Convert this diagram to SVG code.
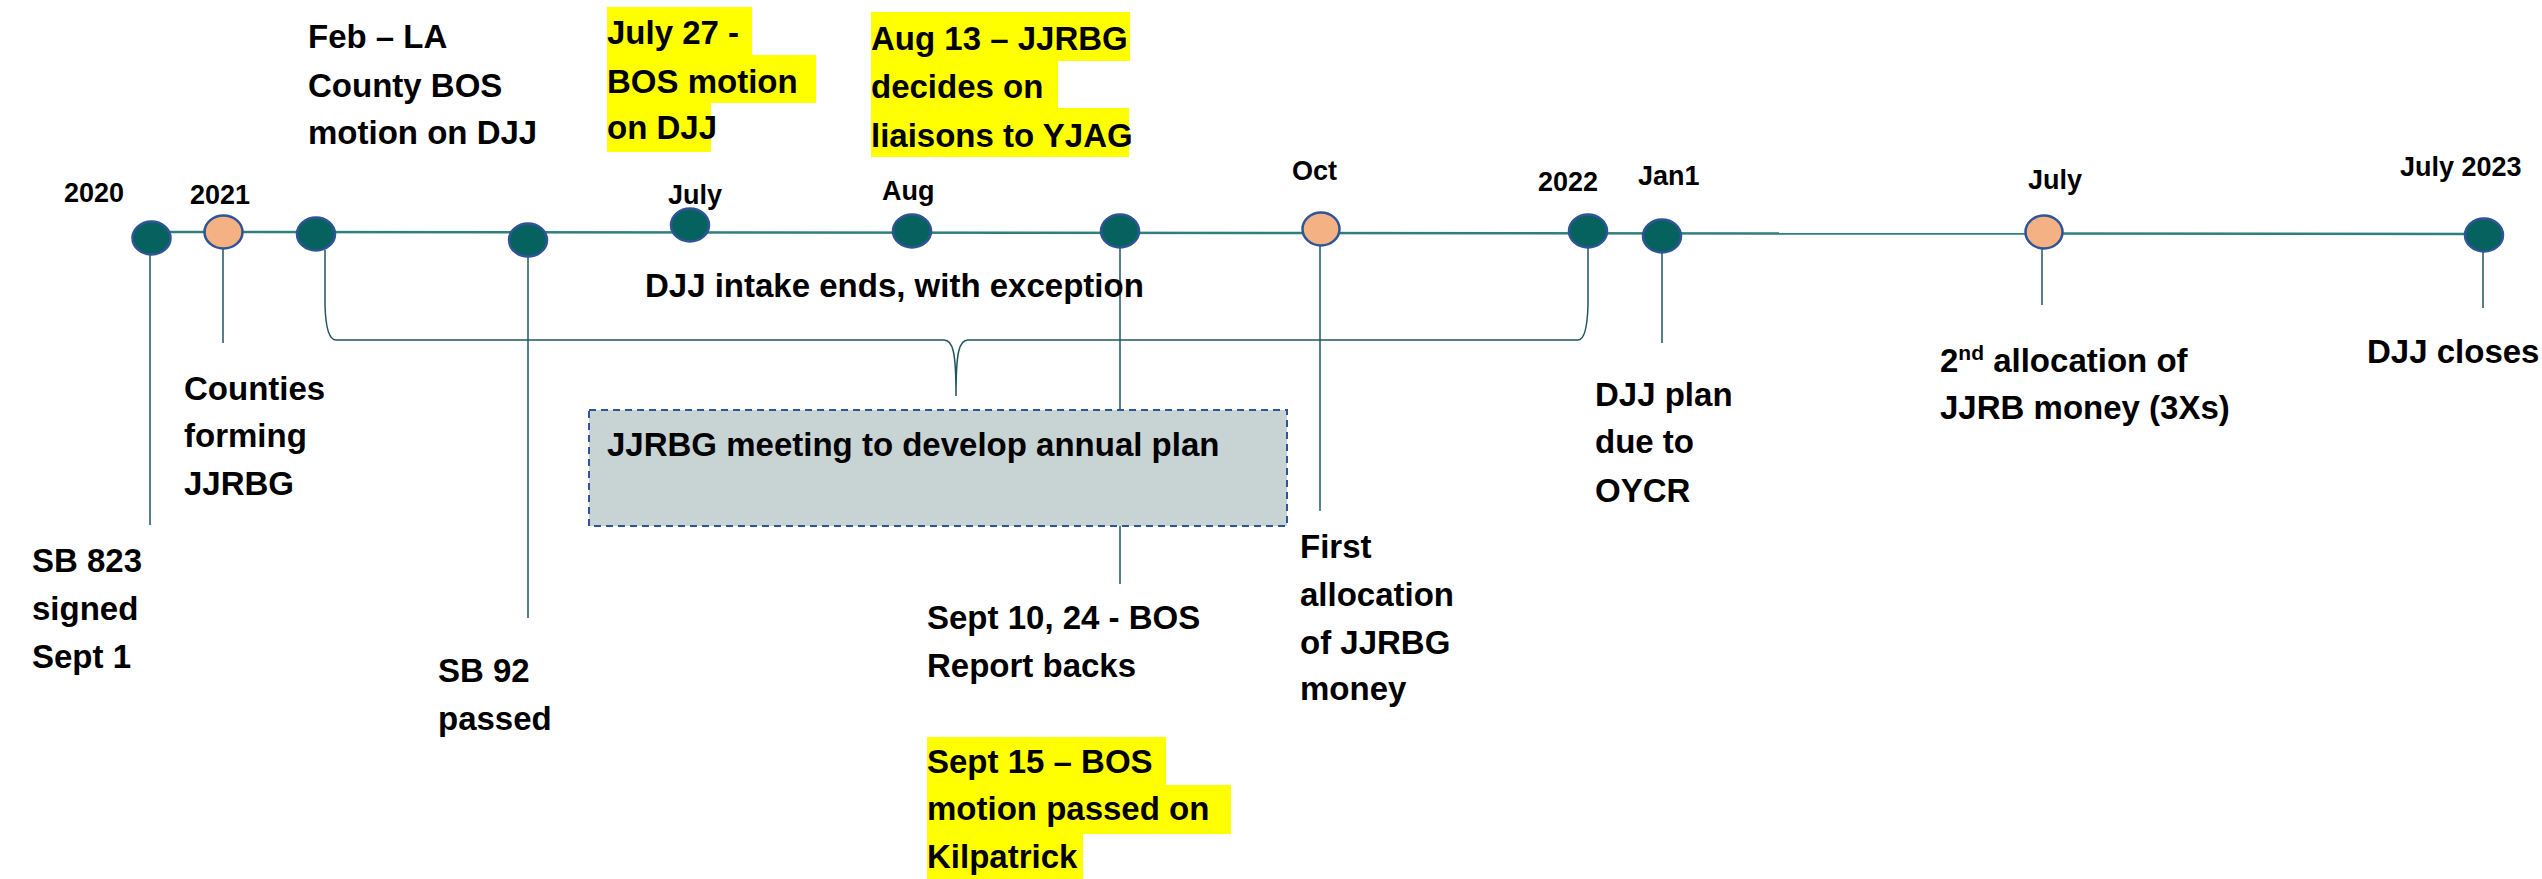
<svg xmlns="http://www.w3.org/2000/svg" width="2542" height="879" viewBox="0 0 2542 879">
<style>
text{font-family:"Liberation Sans",Arial,sans-serif;font-weight:bold;fill:#000}
.m{font-size:33px}
.s{font-size:27px}
.hl{fill:#FFFF00}
.tl{fill:#05625F;stroke:#2F5597;stroke-width:2.5}
.or{fill:#F4B183;stroke:#2F5597;stroke-width:2.5}
.v{stroke:#1F5560;stroke-width:1.5;fill:none}
</style>
<rect width="2542" height="879" fill="#fff"/>
<g id="connectors">
<line x1="151" y1="232" x2="2484" y2="234" stroke="#2E7F7E" stroke-width="2.5"/>
<line class="v" x1="150" y1="254" x2="150" y2="525"/>
<line class="v" x1="223" y1="248" x2="223" y2="343"/>
<line class="v" x1="528" y1="256" x2="528" y2="618"/>
<line class="v" x1="1120" y1="247" x2="1120" y2="584"/>
<line class="v" x1="1320" y1="245" x2="1320" y2="511"/>
<line class="v" x1="1662" y1="252" x2="1662" y2="343"/>
<line class="v" x1="2042" y1="248" x2="2042" y2="305"/>
<line class="v" x1="2483" y1="251" x2="2483" y2="308"/>
<path class="v" stroke-width="2" d="M325 250 L325 305 Q326 340 336 340 L944 340 C953 340 956 352 956 396 C956 352 959 340 968 340 L1578 340 Q1587 340 1588 305 L1588 247"/>
</g>
<g id="n2020"><ellipse class="tl" cx="151.5" cy="238" rx="19" ry="16.5"/><text class="s" x="64" y="202">2020</text></g>
<g id="n2021"><ellipse class="or" cx="223.5" cy="232" rx="19" ry="16.5"/><text class="s" x="190" y="204">2021</text></g>
<g id="nFeb"><ellipse class="tl" cx="316" cy="234" rx="19" ry="16.5"/></g>
<g id="nSB92"><ellipse class="tl" cx="528" cy="240" rx="19" ry="16.5"/></g>
<g id="nJuly"><ellipse class="tl" cx="690" cy="225" rx="19" ry="16.5"/><text class="s" x="668" y="204">July</text></g>
<g id="nAug"><ellipse class="tl" cx="912" cy="231" rx="19" ry="16.5"/><text class="s" x="882" y="200">Aug</text></g>
<g id="nSept"><ellipse class="tl" cx="1120" cy="231" rx="19" ry="16.5"/></g>
<g id="nOct"><ellipse class="or" cx="1321" cy="229" rx="18.5" ry="16.5"/><text class="s" x="1292" y="180">Oct</text></g>
<g id="n2022"><ellipse class="tl" cx="1588" cy="231" rx="19" ry="16.5"/><text class="s" x="1538" y="191">2022</text></g>
<g id="nJan1"><ellipse class="tl" cx="1662" cy="236" rx="19" ry="16.5"/><text class="s" x="1638" y="185">Jan1</text></g>
<g id="nJuly2"><ellipse class="or" cx="2044" cy="232" rx="18.5" ry="16.5"/><text class="s" x="2028" y="189">July</text></g>
<g id="n2023"><ellipse class="tl" cx="2484" cy="235" rx="19" ry="16.5"/><text class="s" x="2400" y="176">July 2023</text></g>
<g id="feb-label"><text class="m" x="308" y="48">Feb – LA</text><text class="m" x="308" y="97">County BOS</text><text class="m" x="308" y="144">motion on DJJ</text></g>
<g id="july27-label">
<rect class="hl" x="607" y="7" width="145" height="48"/><rect class="hl" x="607" y="55" width="209" height="48"/><rect class="hl" x="607" y="103" width="104" height="49"/>
<text class="m" x="607" y="44">July 27 -</text><text class="m" x="607" y="93">BOS motion</text><text class="m" x="607" y="139">on DJJ</text></g>
<g id="aug13-label">
<rect class="hl" x="871" y="12" width="259" height="49"/><rect class="hl" x="871" y="61" width="187" height="47"/><rect class="hl" x="871" y="108" width="258" height="49"/>
<text class="m" x="871" y="50">Aug 13 – JJRBG</text><text class="m" x="871" y="98">decides on</text><text class="m" x="871" y="147">liaisons to YJAG</text></g>
<g id="intake-label"><text class="m" x="645" y="297">DJJ intake ends, with exception</text></g>
<g id="meeting-box"><rect x="589" y="410" width="698" height="116" fill="#C8D3D4" stroke="#2F5597" stroke-width="2" stroke-dasharray="7 5"/><text class="m" x="607" y="456">JJRBG meeting to develop annual plan</text></g>
<g id="counties-label"><text class="m" x="184" y="400">Counties</text><text class="m" x="184" y="447">forming</text><text class="m" x="184" y="495">JJRBG</text></g>
<g id="sb823-label"><text class="m" x="32" y="572">SB 823</text><text class="m" x="32" y="620">signed</text><text class="m" x="32" y="668">Sept 1</text></g>
<g id="sb92-label"><text class="m" x="438" y="682">SB 92</text><text class="m" x="438" y="730">passed</text></g>
<g id="sept10-label"><text class="m" x="927" y="629">Sept 10, 24 - BOS</text><text class="m" x="927" y="677">Report backs</text></g>
<g id="sept15-label">
<rect class="hl" x="927" y="737" width="239" height="48"/><rect class="hl" x="927" y="785" width="304" height="49"/><rect class="hl" x="927" y="834" width="156" height="45"/>
<text class="m" x="927" y="773">Sept 15 – BOS</text><text class="m" x="927" y="820">motion passed on</text><text class="m" x="927" y="868">Kilpatrick</text></g>
<g id="first-label"><text class="m" x="1300" y="558">First</text><text class="m" x="1300" y="606">allocation</text><text class="m" x="1300" y="654">of JJRBG</text><text class="m" x="1300" y="700">money</text></g>
<g id="djjplan-label"><text class="m" x="1595" y="406">DJJ plan</text><text class="m" x="1595" y="453">due to</text><text class="m" x="1595" y="502">OYCR</text></g>
<g id="second-label"><text class="m" x="1940" y="372">2<tspan font-size="21" dy="-12">nd</tspan><tspan dy="12"> allocation of</tspan></text><text class="m" x="1940" y="419">JJRB money (3Xs)</text></g>
<g id="closes-label"><text class="m" x="2367" y="363">DJJ closes</text></g>
</svg>
